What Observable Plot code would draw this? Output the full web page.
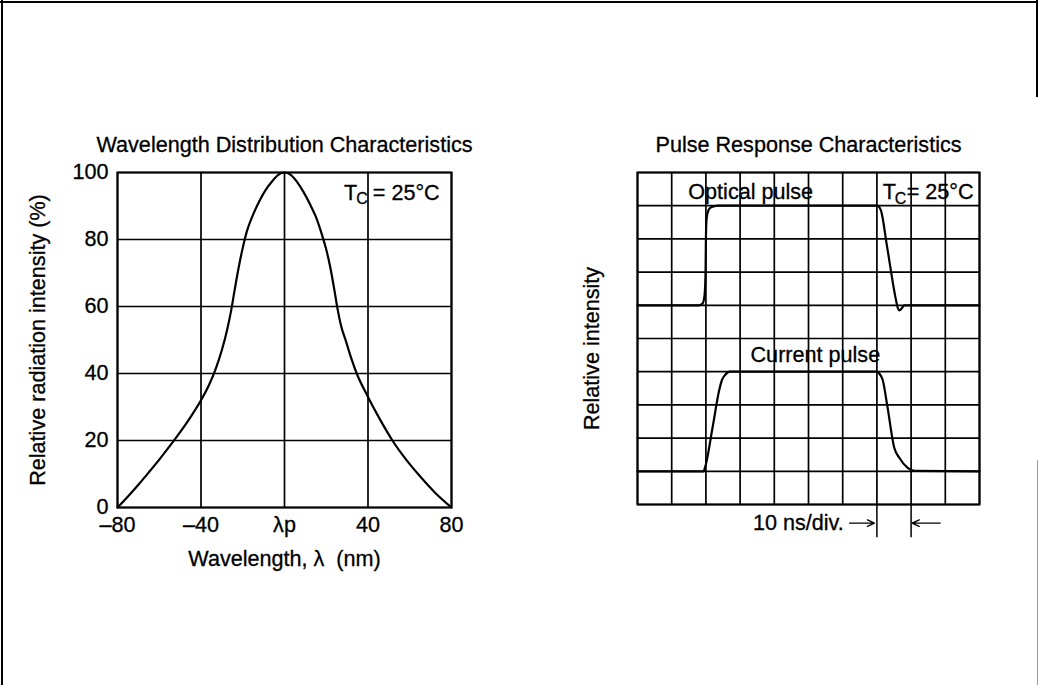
<!DOCTYPE html>
<html><head><meta charset="utf-8">
<script src="https://cdn.jsdelivr.net/npm/d3@7"></script>
<script src="https://cdn.jsdelivr.net/npm/@observablehq/plot@0.6"></script>
<style>
html,body{margin:0;padding:0;background:#fff;}
#page{position:relative;width:1038px;height:685px;overflow:hidden;background:#fff;}
.edge{position:absolute;background:#000;z-index:5;}
#left{position:absolute;left:4px;top:100px;z-index:1;}
#right{position:absolute;left:524px;top:100px;z-index:1;}
#page svg text{stroke:#000;stroke-width:0.3px;}
</style></head><body>
<div id="page">
<div id="left"></div><div id="right"></div>
<div class="edge" style="left:0;top:1px;width:1038px;height:2px"></div>
<div class="edge" style="left:1px;top:0;width:2px;height:685px"></div>
<div class="edge" style="left:1036px;top:0;width:2px;height:97px"></div>
<div class="edge" style="left:1037px;top:460px;width:1px;height:225px;background:#999"></div>
</div>
<script>
// ---------- Wavelength distribution ----------
const leftTitle = "Wavelength Distribution Characteristics";
const leftXLabel = "Wavelength, \u03bb\u00a0 (nm)";
const leftYLabel = "Relative radiation intensity (%)";
const xTicks = [-80, -40, 0, 40, 80];
const xTickLabels = ["\u201380", "\u201340", "\u03bbp", "40", "80"];
const yTicks = [0, 20, 40, 60, 80, 100];
const wavelength = [-80,-75,-70,-65,-60,-55,-50,-45,-40,-36,-33,-30,-27.5,-25.5,-24,-22,-20,-18,-15,-12,-9,-6,-3,0,
                    3,6,9,12,15,18,20,22,24,25.5,27,29.5,32,34.6,40,46,51.7,58,64.5,72,80];
const intensity  = [0,3.3,6.8,10.5,14.3,18.3,22.5,27,32,36.8,41.3,47,53,59,64.5,71.5,77.5,82.5,87.5,91.5,94.8,97.3,99.3,100,
                    99.3,97.2,94.3,90.8,86.8,81.3,77,71.5,64.5,59,54.5,49.5,44.5,40,33,26,20,14.5,9.6,4.5,0];

// ---------- Pulse response ----------
const rightTitle = "Pulse Response Characteristics";
const rightYLabel = "Relative intensity";
const divisions = [0,1,2,3,4,5,6,7,8,9,10];
const opticalT = [0,1.8,1.9,1.96,1.99,2.0,2.02,2.07,2.15,2.35,7.0,7.06,7.12,7.3,7.56,7.61,7.66,7.72,7.8,10];
const opticalV = [6,6,6.05,6.3,7,8,8.6,8.85,8.95,9,9,8.97,8.85,7.75,6.15,5.92,5.85,5.9,6,6];
const currentT = [0,1.93,1.97,2.2,2.39,2.47,2.56,2.7,7.0,7.08,7.17,7.3,7.51,7.66,7.9,8.1,10];
const currentV = [1,1,1.1,2.35,3.45,3.75,3.9,4,4,3.93,3.75,3.0,1.7,1.4,1.1,1.01,1];
const labels = ["Optical pulse", "Current pulse", "10 ns/div."];
const tcParts = ["T", "C", "= 25\u00b0C"];
const scaleMarkers = [7, 8];           // the 10 ns division marked below the grid
const arrowFrom = [6.2, 8.85];
const arrowTo = [6.93, 8.03];

const FONT = "'Liberation Sans', Arial, Helvetica, sans-serif";
const baseStyle = {fontFamily: FONT, fontSize: "21.6px", color: "#000", background: "#fff", overflow: "visible"};

const xLabelMap = new Map(xTicks.map((t, i) => [t, xTickLabels[i]]));
const spectrum = wavelength.map((w, i) => ({w, v: intensity[i]}));

const leftChart = Plot.plot({
  width: 516, height: 500,
  marginLeft: 113, marginRight: 69, marginTop: 72, marginBottom: 93,
  style: baseStyle,
  x: {domain: [-80, 80]},
  y: {domain: [0, 100]},
  marks: [
    Plot.ruleX(xTicks, {stroke: "#000", strokeWidth: 1.7}),
    Plot.ruleY(yTicks, {stroke: "#000", strokeWidth: 1.7}),
    Plot.frame({stroke: "#000", strokeWidth: 2}),
    Plot.line(spectrum, {x: "w", y: "v", curve: "monotone-x", stroke: "#000", strokeWidth: 2.2}),
    Plot.axisX({ticks: xTicks, tickFormat: d => xLabelMap.get(d), tickSize: 0, tickPadding: 9, label: null}),
    Plot.axisY({ticks: yTicks, tickSize: 0, tickPadding: 9, label: null}),
    Plot.text([leftTitle], {frameAnchor: "top", dy: -36}),
    Plot.text([leftXLabel], {frameAnchor: "bottom", dy: 58}),
    Plot.text([leftYLabel], {frameAnchor: "left", textAnchor: "middle", dx: -79, rotate: -90}),
    Plot.text([tcParts[0]], {x: 28.5, y: 94, textAnchor: "start"}),
    Plot.text([tcParts[1]], {x: 34.4, y: 92.2, textAnchor: "start", fontSize: 16}),
    Plot.text([tcParts[2]], {x: 42.3, y: 94, textAnchor: "start"})
  ]
});
document.getElementById("left").append(leftChart);

const optical = opticalT.map((t, i) => ({t, v: opticalV[i]}));
const current = currentT.map((t, i) => ({t, v: currentV[i]}));
const arrows = arrowFrom.map((a, i) => ({x1: a, x2: arrowTo[i], y: -0.56}));

const rightChart = Plot.plot({
  width: 514, height: 500,
  marginLeft: 113, marginRight: 59, marginTop: 72, marginBottom: 96,
  style: baseStyle,
  x: {domain: [0, 10], axis: null},
  y: {domain: [0, 10], axis: null},
  marks: [
    Plot.ruleX(divisions, {stroke: "#000", strokeWidth: 1.7}),
    Plot.ruleY(divisions, {stroke: "#000", strokeWidth: 1.7}),
    Plot.frame({stroke: "#000", strokeWidth: 2}),
    Plot.line(optical, {x: "t", y: "v", curve: "monotone-x", stroke: "#000", strokeWidth: 2.2}),
    Plot.line(current, {x: "t", y: "v", curve: "monotone-x", stroke: "#000", strokeWidth: 2.2}),
    Plot.text([rightTitle], {frameAnchor: "top", dy: -36}),
    Plot.text([rightYLabel], {frameAnchor: "left", textAnchor: "middle", dx: -45, dy: 10, rotate: -90}),
    Plot.text([labels[0]], {x: 3.31, y: 9.4}),
    Plot.text([labels[1]], {x: 5.2, y: 4.5}),
    Plot.text([tcParts[0]], {x: 7.17, y: 9.4, textAnchor: "start"}),
    Plot.text([tcParts[1]], {x: 7.52, y: 9.22, textAnchor: "start", fontSize: 16}),
    Plot.text([tcParts[2]], {x: 7.87, y: 9.4, textAnchor: "start"}),
    Plot.text([labels[2]], {x: 6.03, y: -0.56, textAnchor: "end"}),
    Plot.ruleX(scaleMarkers, {y1: 0, y2: -1.0, stroke: "#000", strokeWidth: 1.5}),
    Plot.arrow(arrows, {x1: "x1", x2: "x2", y1: "y", y2: "y", stroke: "#000", strokeWidth: 1.3, headLength: 9, headAngle: 50})
  ]
});
document.getElementById("right").append(rightChart);
</script>
</body></html>
